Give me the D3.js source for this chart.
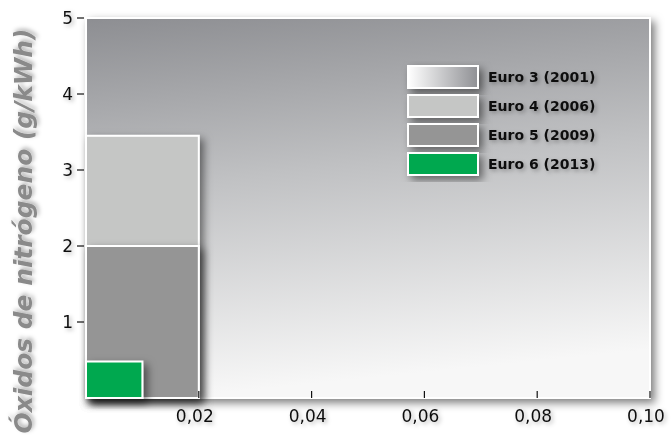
<!DOCTYPE html>
<html>
<head>
<meta charset="utf-8">
<script src="https://cdn.jsdelivr.net/npm/d3@7"></script>
<style>
  body { margin: 0; background: #fff; }
  text { font-family: "DejaVu Sans", sans-serif; }
</style>
</head>
<body>
<div id="chart"></div>
<script>
// Euro emission norms: particles (x) vs NOx (y), g/kWh
var series = ["Euro 3 (2001)", "Euro 4 (2006)", "Euro 5 (2009)", "Euro 6 (2013)"];
var particles = [0.10, 0.02, 0.02, 0.01];
var nox = [5.0, 3.45, 2.0, 0.48];
var xTicks = [0.02, 0.04, 0.06, 0.08, 0.10];
var yTicks = [1, 2, 3, 4, 5];
var colors = ["url(#grad3)", "#c5c6c5", "#959595", "#00a84f"];

var W = 671, H = 435;
var svg = d3.select("#chart").append("svg").attr("width", W).attr("height", H);

var x = d3.scaleLinear().domain([0, 0.10]).range([86, 650]);
var y = d3.scaleLinear().domain([0, 5]).range([398, 18]);

var defs = svg.append("defs");
var g3 = defs.append("linearGradient").attr("id", "grad3")
    .attr("x1", 0).attr("y1", 0).attr("x2", 0.15).attr("y2", 1);
g3.append("stop").attr("offset", "0%").attr("stop-color", "#8d8e92");
g3.append("stop").attr("offset", "45%").attr("stop-color", "#c0c1c3");
g3.append("stop").attr("offset", "100%").attr("stop-color", "#f7f7f7");

var gl = defs.append("linearGradient").attr("id", "gradLeg")
    .attr("x1", 0).attr("y1", 0).attr("x2", 1).attr("y2", 0);
gl.append("stop").attr("offset", "0%").attr("stop-color", "#ffffff");
gl.append("stop").attr("offset", "100%").attr("stop-color", "#8f9094");

var sh = defs.append("filter").attr("id", "shadow")
    .attr("x", "-20%").attr("y", "-20%").attr("width", "150%").attr("height", "150%");
sh.append("feDropShadow").attr("dx", 4).attr("dy", 4).attr("stdDeviation", 4)
    .attr("flood-color", "#000").attr("flood-opacity", 0.5);

var tsh = defs.append("filter").attr("id", "tshadow")
    .attr("x", "-30%").attr("y", "-30%").attr("width", "160%").attr("height", "160%");
tsh.append("feDropShadow").attr("dx", 2).attr("dy", 2).attr("stdDeviation", 2)
    .attr("flood-color", "#000").attr("flood-opacity", 0.3);

// rectangles, one per norm
svg.selectAll("rect.norm")
    .data(series)
    .enter().append("rect")
    .attr("class", "norm")
    .attr("x", x(0))
    .attr("y", function(d, i) { return y(nox[i]); })
    .attr("width", function(d, i) { return x(particles[i]) - x(0); })
    .attr("height", function(d, i) { return y(0) - y(nox[i]); })
    .attr("fill", function(d, i) { return colors[i]; })
    .attr("stroke", "#fff")
    .attr("stroke-width", 2)
    .attr("filter", "url(#shadow)");

// y axis ticks
var yAxis = svg.append("g");
yAxis.selectAll("line").data(yTicks).enter().append("line")
    .attr("x1", 77).attr("x2", 84)
    .attr("y1", function(d) { return y(d); })
    .attr("y2", function(d) { return y(d); })
    .attr("stroke", "#111").attr("stroke-width", 1.2);
yAxis.selectAll("text").data(yTicks).enter().append("text")
    .attr("x", 73)
    .attr("y", function(d) { return y(d) + 6; })
    .attr("text-anchor", "end")
    .style("font-size", "17px")
    .attr("fill", "#111")
    .attr("filter", "url(#tshadow)")
    .text(function(d) { return d; });

// x axis ticks (pointing inward)
var xAxis = svg.append("g");
xAxis.selectAll("line").data(xTicks).enter().append("line")
    .attr("x1", function(d) { return x(d); })
    .attr("x2", function(d) { return x(d); })
    .attr("y1", 391).attr("y2", 398)
    .attr("stroke", "#111").attr("stroke-width", 1.2);
xAxis.selectAll("text").data(xTicks).enter().append("text")
    .attr("x", function(d) { return x(d) - 4; })
    .attr("y", 422)
    .attr("text-anchor", "middle")
    .style("font-size", "17px")
    .attr("fill", "#111")
    .attr("filter", "url(#tshadow)")
    .text(function(d) { return d3.format(".2f")(d).replace(".", ","); });

// y axis title
var yTitle = svg.append("text")
    .attr("transform", "translate(32," + 231 + ") rotate(-90)")
    .attr("text-anchor", "middle")
    .style("font-size", "23px")
    .style("font-weight", "bold")
    .style("font-style", "italic")
    .attr("fill", "#8a8a8a")
    .attr("filter", "url(#tshadow)")
    .text("Óxidos de nitrógeno (g/kWh)");
var tl = yTitle.node().getComputedTextLength();
yTitle.style("font-size", (23 * 405 / tl) + "px");

// legend
var legend = svg.append("g");
var legFill = ["url(#gradLeg)", colors[1], colors[2], colors[3]];
legend.selectAll("rect").data(series).enter().append("rect")
    .attr("x", 408)
    .attr("y", function(d, i) { return 66 + i * 29; })
    .attr("width", 70).attr("height", 22)
    .attr("fill", function(d, i) { return legFill[i]; })
    .attr("stroke", "#fff").attr("stroke-width", 2)
    .attr("filter", "url(#shadow)");
legend.selectAll("text").data(series).enter().append("text")
    .attr("x", 488)
    .attr("y", function(d, i) { return 82 + i * 29; })
    .style("font-size", "14px")
    .style("font-weight", "bold")
    .attr("fill", "#111")
    .attr("filter", "url(#tshadow)")
    .text(function(d) { return d; });
</script>
</body>
</html>
